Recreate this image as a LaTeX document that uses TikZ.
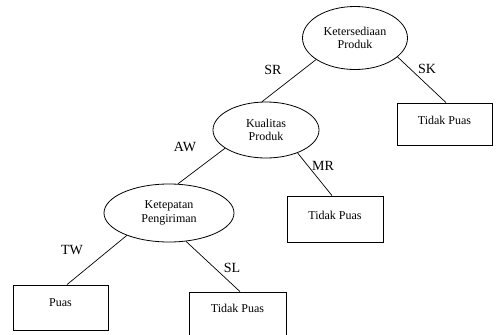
\documentclass[tikz,border=0pt]{standalone}
\usepackage{fontspec}
\setmainfont{Liberation Serif}
\usetikzlibrary{shapes.geometric}
\begin{document}
\begin{tikzpicture}[x=1pt,y=-1pt,
  decision/.style={ellipse,draw,line width=0.8pt,inner sep=0pt,align=center,
    font=\fontsize{12}{13.5}\selectfont},
  leaf/.style={draw,line width=0.8pt,inner sep=0pt},
  leaftext/.style={font=\fontsize{12}{13.5}\selectfont},
  edge/.style={line width=0.7pt},
  elabel/.style={font=\fontsize{14}{15}\selectfont}]
\useasboundingbox (0,0) rectangle (499,335);
% decision nodes
\node[decision,minimum width=105pt,minimum height=63pt] (e1) at (355,38) {Ketersediaan\\Produk};
\node[decision,minimum width=106pt,minimum height=56pt] (e2) at (266,130) {Kualitas\\Produk};
\node[decision,minimum width=130pt,minimum height=58pt] (e3) at (169,213) {Ketepatan\\Pengiriman};
% leaves
\node[leaf,minimum width=95pt,minimum height=42pt] (b1) at (444.5,124) {};
\node[leaftext] (t1) at (444.5,120) {Tidak Puas};
\node[leaf,minimum width=96pt,minimum height=46pt] (b2) at (335,219) {};
\node[leaftext] (t2) at (335,215) {Tidak Puas};
\node[leaf,minimum width=95pt,minimum height=45pt] (b3) at (60.5,307.5) {};
\node[leaftext] (t3) at (60.5,303) {Puas};
\node[leaf,minimum width=97pt,minimum height=46pt] (b4) at (237.5,315) {};
\node[leaftext] (t4) at (237.5,308) {Tidak Puas};
% edges
\draw[edge] (e1.209) -- (e2.98);
\draw[edge] (e1.336) -- ([xshift=1.5pt]b1.north);
\draw[edge] (e2.204) -- (e3.73);
\draw[edge] (e2.324) -- ([xshift=-3pt]b2.north);
\draw[edge] (e3.208) -- ([xshift=6.5pt]b3.north);
\draw[edge] (e3.301) -- ([xshift=2.5pt]b4.north);
% edge labels
\node[elabel] (lSR) at (273,70) {SR};
\node[elabel] (lSK) at (427,69) {SK};
\node[elabel] (lAW) at (185,147) {AW};
\node[elabel] (lMR) at (323,166) {MR};
\node[elabel] (lTW) at (72,250) {TW};
\node[elabel] (lSL) at (232,268) {SL};
\end{tikzpicture}
\end{document}
